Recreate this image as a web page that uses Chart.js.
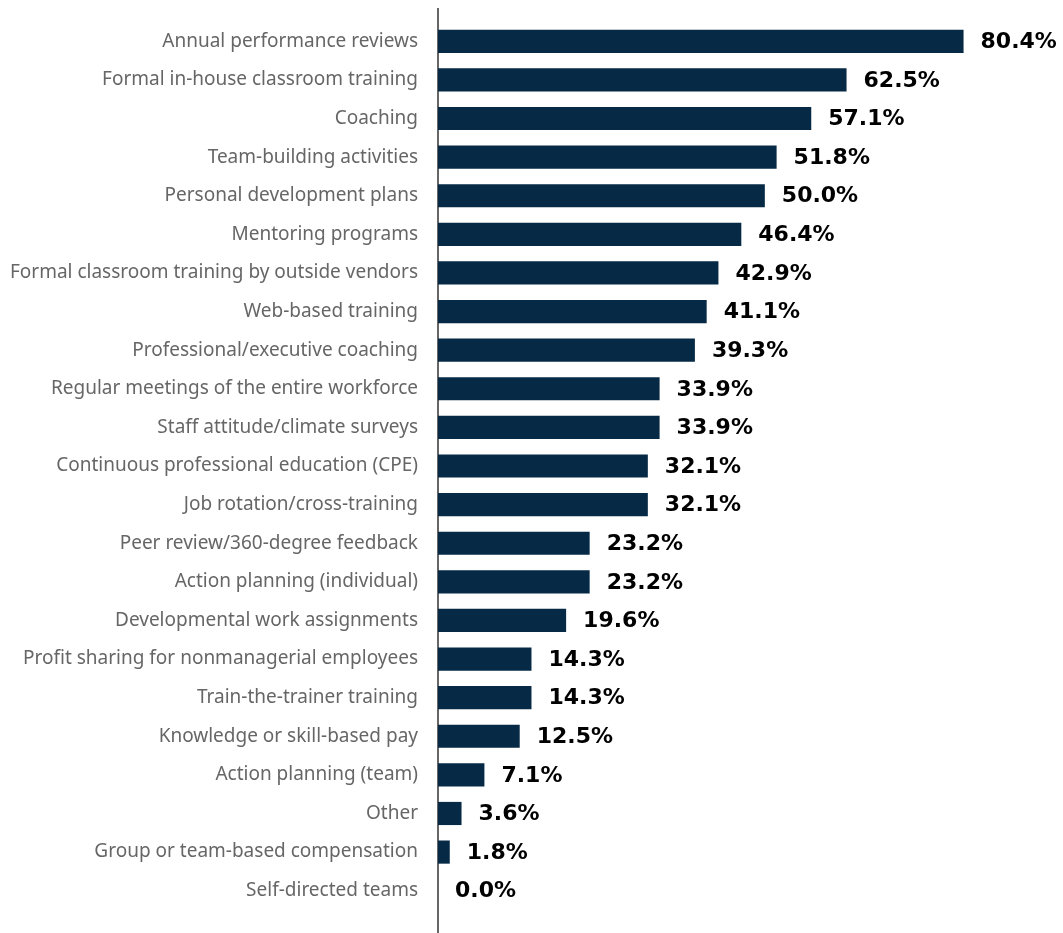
<!DOCTYPE html>
<html>
<head>
<meta charset="utf-8">
<script src="https://cdn.jsdelivr.net/npm/chart.js@4/dist/chart.umd.min.js"></script>
<style>
  html, body { margin: 0; padding: 0; background: #fff; }
  #wrap { width: 1063px; height: 933px; }
</style>
</head>
<body>
<div id="wrap"><canvas id="bars" width="1063" height="933"></canvas></div>
<script>
const practices = [
  "Annual performance reviews",
  "Formal in-house classroom training",
  "Coaching",
  "Team-building activities",
  "Personal development plans",
  "Mentoring programs",
  "Formal classroom training by outside vendors",
  "Web-based training",
  "Professional/executive coaching",
  "Regular meetings of the entire workforce",
  "Staff attitude/climate surveys",
  "Continuous professional education (CPE)",
  "Job rotation/cross-training",
  "Peer review/360-degree feedback",
  "Action planning (individual)",
  "Developmental work assignments",
  "Profit sharing for nonmanagerial employees",
  "Train-the-trainer training",
  "Knowledge or skill-based pay",
  "Action planning (team)",
  "Other",
  "Group or team-based compensation",
  "Self-directed teams"
];
const percentUsing = [
  80.4, 62.5, 57.1, 51.8, 50.0, 46.4, 42.9, 41.1, 39.3, 33.9, 33.9, 32.1,
  32.1, 23.2, 23.2, 19.6, 14.3, 14.3, 12.5, 7.1, 3.6, 1.8, 0.0
];

// value text just past the end of each bar
const valueLabels = {
  id: "valueLabels",
  afterDatasetsDraw(chart) {
    const ctx = chart.ctx;
    const meta = chart.getDatasetMeta(0);
    ctx.save();
    ctx.font = "bold 22px 'DejaVu Sans'";
    ctx.fillStyle = "#000";
    ctx.textAlign = "left";
    ctx.textBaseline = "middle";
    meta.data.forEach((bar, i) => {
      ctx.fillText(percentUsing[i].toFixed(1) + "%", bar.x + 17, bar.y + 1);
    });
    ctx.restore();
  }
};

// vertical axis line, runs past the rows top and bottom
const axisLine = {
  id: "axisLine",
  beforeDatasetsDraw(chart) {
    const ctx = chart.ctx;
    const x = chart.chartArea.left;
    ctx.save();
    ctx.strokeStyle = "#666";
    ctx.lineWidth = 2;
    ctx.beginPath();
    ctx.moveTo(x, 8);
    ctx.lineTo(x, chart.height);
    ctx.stroke();
    ctx.restore();
  }
};

new Chart(document.getElementById("bars"), {
  type: "bar",
  data: {
    labels: practices,
    datasets: [{
      data: percentUsing,
      backgroundColor: "#062a45",
      barPercentage: 0.6,
      categoryPercentage: 1.0
    }]
  },
  options: {
    indexAxis: "y",
    responsive: false,
    animation: false,
    layout: { padding: { top: 22, bottom: 23, right: 4 } },
    plugins: { legend: { display: false }, tooltip: { enabled: false } },
    scales: {
      x: { display: false, min: 0, max: 95 },
      y: {
        afterFit(scale) {
          scale.width = 438;
          scale.paddingTop = 0;
          scale.paddingBottom = 0;
        },
        grid: { display: false, drawTicks: false },
        border: { display: false },
        ticks: {
          padding: 20,
          color: "#666",
          font: { family: "'Noto Sans'", size: 19 }
        }
      }
    }
  },
  plugins: [valueLabels, axisLine]
});
</script>
</body>
</html>
